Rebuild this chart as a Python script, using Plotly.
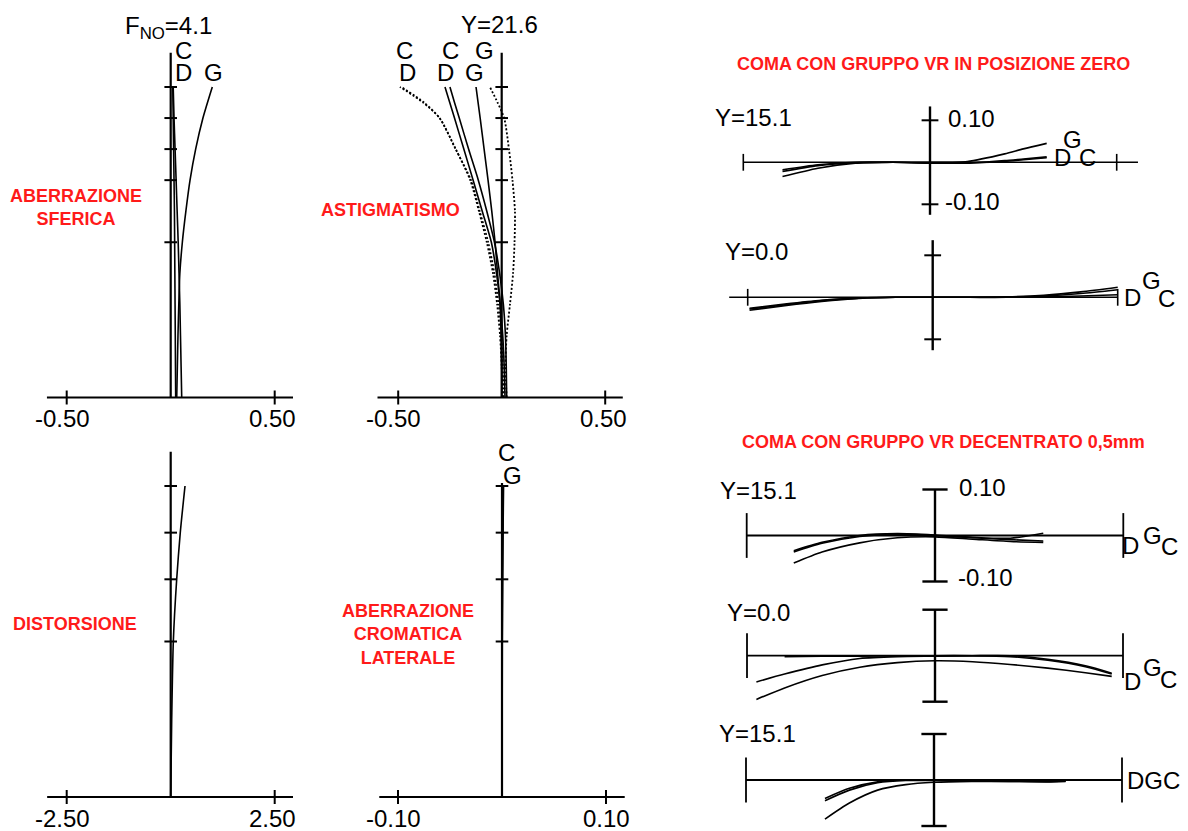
import plotly.graph_objects as go

W, H = 1188, 831

# ---------------- data ----------------
# Spherical aberration (normalised pupil height vs defocus, mm)
SPH_H = [0.0, 0.1, 0.2, 0.3, 0.4, 0.5, 0.6, 0.7, 0.8, 0.9, 1.0]
SPH_C = [0.024, 0.023, 0.022, 0.021, 0.020, 0.019, 0.018, 0.016, 0.014, 0.012, 0.010]
SPH_D = [0.053, 0.050, 0.047, 0.044, 0.040, 0.036, 0.031, 0.026, 0.021, 0.016, 0.012]
SPH_G = [0.029, 0.032, 0.035, 0.039, 0.044, 0.056, 0.073, 0.093, 0.120, 0.155, 0.200]
SPH_YTICKS = [0.5, 0.7, 0.8, 0.9, 1.0]
SPH_XTICKS = [-0.5, 0.5]
SPH_XLABELS = ["-0.50", "0.50"]

# Astigmatism (image height fraction vs focus shift, mm); _S sagittal, _M meridional
AST_H = [0.0, 0.1, 0.2, 0.3, 0.4, 0.5, 0.6, 0.7, 0.8, 0.9, 0.95, 1.0]
AST_C_M = [0.004, 0.000, -0.008, -0.022, -0.042, -0.072, -0.110, -0.152, -0.222, -0.300, -0.375, -0.485]
AST_D_M = [0.008, 0.006, 0.000, -0.015, -0.035, -0.065, -0.106, -0.148, -0.223, -0.300, -0.380, -0.492]
AST_C_S = [0.000, 0.000, -0.003, -0.008, -0.025, -0.050, -0.094, -0.138, -0.183, -0.228, -0.251, -0.274]
AST_D_S = [0.024, 0.022, 0.018, 0.008, -0.010, -0.035, -0.072, -0.113, -0.160, -0.205, -0.228, -0.250]
AST_G_S = [0.016, 0.012, 0.005, -0.007, -0.020, -0.032, -0.048, -0.066, -0.085, -0.104, -0.114, -0.124]
AST_G_M = [0.024, 0.018, 0.024, 0.040, 0.055, 0.062, 0.064, 0.052, 0.035, 0.012, -0.020, -0.057]
AST_XTICKS = [-0.5, 0.5]
AST_XLABELS = ["-0.50", "0.50"]

# Distortion (%)
DIS_H = [0.0, 0.25, 0.5, 0.7, 0.85, 1.0]
DIS_D = [0.0, 0.024, 0.063, 0.144, 0.230, 0.344]
DIS_YTICKS = [0.5, 0.7, 0.85, 1.0]
DIS_XTICKS = [-2.5, 2.5]
DIS_XLABELS = ["-2.50", "2.50"]

# Lateral chromatic aberration (mm)
LAT_H = [0.0, 0.5, 0.7, 0.85, 1.0]
LAT_C = [0.0, 0.0002, 0.0005, 0.0008, 0.0010]
LAT_G = [0.0, 0.0003, 0.0006, 0.0010, 0.0015]
LAT_YTICKS = [0.5, 0.7, 0.85, 1.0]
LAT_XTICKS = [-0.1, 0.1]
LAT_XLABELS = ["-0.10", "0.10"]

# Coma, VR group at zero position
CZ15_X = [-0.79, -0.6, -0.4, -0.2, 0.0, 0.2, 0.4, 0.5, 0.625]
CZ15_G = [-0.034, -0.014, -0.002, 0.000, 0.000, 0.002, 0.020, 0.032, 0.045]
CZ15_D = [-0.018, -0.006, 0.000, 0.000, -0.002, -0.002, 0.004, 0.008, 0.013]
CZ15_C = [-0.022, -0.008, -0.001, 0.000, -0.002, -0.001, 0.002, 0.006, 0.011]
CZ0_X = [-0.99, -0.8, -0.6, -0.4, -0.2, 0.0, 0.2, 0.4, 0.6, 0.8, 1.0]
CZ0_G = [-0.031, -0.020, -0.010, -0.003, 0.0, 0.0, 0.0, 0.001, 0.005, 0.013, 0.024]
CZ0_D = [-0.028, -0.018, -0.008, -0.002, 0.0, 0.0, 0.0, 0.000, 0.003, 0.009, 0.018]
CZ0_C = [-0.026, -0.016, -0.007, -0.002, 0.0, 0.0, 0.0, 0.000, 0.001, 0.003, 0.006]
COMA_TICKS = [-0.1, 0.1]
COMA_TICKLABELS = ["-0.10", "0.10"]
PUPIL_TICKS = [-1.0, 1.0]

# Coma, VR group decentred 0.5 mm
CA_X = [-0.75, -0.6, -0.4, -0.2, 0.0, 0.2, 0.4, 0.575]
CA_D = [-0.033, -0.015, 0.000, 0.004, 0.001, -0.004, -0.006, 0.005]
CA_G = [-0.060, -0.036, -0.016, -0.005, -0.003, -0.008, -0.013, -0.015]
CA_C = [-0.036, -0.017, -0.002, 0.003, 0.000, -0.005, -0.009, -0.012]
CB_X = [-0.95, -0.8, -0.6, -0.4, -0.2, 0.0, 0.2, 0.4, 0.6, 0.8, 0.94]
CB_D = [-0.057, -0.040, -0.020, -0.006, -0.002, -0.001, 0.000, 0.000, -0.008, -0.022, -0.038]
CB_G = [-0.095, -0.070, -0.043, -0.025, -0.015, -0.011, -0.013, -0.019, -0.027, -0.037, -0.045]
CB_C = [-0.004, -0.002, -0.001, -0.001, 0.000, 0.000, 0.000, -0.002, -0.010, -0.024, -0.040]
CC_X = [-0.58, -0.45, -0.3, -0.15, 0.0, 0.2, 0.4, 0.6, 0.7]
CC_D = [-0.040, -0.018, -0.004, 0.000, 0.000, -0.001, -0.002, -0.003, -0.002]
CC_G = [-0.085, -0.050, -0.022, -0.010, -0.005, -0.003, -0.003, -0.003, -0.002]
CC_C = [-0.045, -0.022, -0.006, -0.001, -0.001, -0.002, -0.003, -0.004, -0.003]

FONT = "Liberation Sans, Arial, Helvetica, sans-serif"
RED = "#ff1a1a"

fig = go.Figure()
_axcount = [0]


def add_axes(x0px, sx, y0px, sy, box):
    """Create an x/y axis pair mapping data 0 to pixel (x0px, y0px)."""
    left, right, top, bottom = box
    _axcount[0] += 1
    i = _axcount[0]
    sfx = "" if i == 1 else str(i)
    fig.layout["xaxis" + sfx] = dict(
        domain=[left / W, right / W],
        range=[(left - x0px) / sx, (right - x0px) / sx],
        visible=False, anchor="y" + sfx, fixedrange=True)
    fig.layout["yaxis" + sfx] = dict(
        domain=[1 - bottom / H, 1 - top / H],
        range=[(y0px - bottom) / sy, (y0px - top) / sy],
        visible=False, anchor="x" + sfx, fixedrange=True)
    return ("x" + sfx, "y" + sfx)


def curve(ax, xs, ys, width=1.6, dash="solid"):
    fig.add_trace(go.Scatter(
        x=xs, y=ys, mode="lines", xaxis=ax[0], yaxis=ax[1],
        line=dict(color="black", width=width, dash=dash, shape="spline", smoothing=0.7),
        showlegend=False, hoverinfo="skip", cliponaxis=False))


def seg(ax, xs, ys, width=2.2):
    fig.add_trace(go.Scatter(
        x=xs, y=ys, mode="lines", xaxis=ax[0], yaxis=ax[1],
        line=dict(color="black", width=width),
        showlegend=False, hoverinfo="skip", cliponaxis=False))


def ticks(ax, xs, ys, symbol, size, width=2.0):
    fig.add_trace(go.Scatter(
        x=xs, y=ys, mode="markers", xaxis=ax[0], yaxis=ax[1],
        marker=dict(symbol=symbol, size=size, color="black",
                    line=dict(color="black", width=width)),
        showlegend=False, hoverinfo="skip", cliponaxis=False))


anns = []


def text(t, px, py, size=24, color="black", bold=False):
    if bold:
        t = "<b>" + t + "</b>"
    anns.append(dict(text=t, x=px / W, y=1 - py / H, xref="paper", yref="paper",
                     xanchor="center", yanchor="middle", showarrow=False,
                     font=dict(family=FONT, size=size, color=color)))


def data_text(ax, t, x, y, dx, dy, size=24):
    anns.append(dict(text=t, x=x, y=y, xref=ax[0], yref=ax[1], xshift=dx, yshift=dy,
                     xanchor="center", yanchor="middle", showarrow=False,
                     font=dict(family=FONT, size=size, color="black")))


# ---------------- spherical aberration ----------------
a1 = add_axes(170.7, 208, 397.5, 310.5, (0, 320, 30, 410))
seg(a1, [-0.595, 0.588], [0, 0])
seg(a1, [0, 0], [0, 1.11])
ticks(a1, [0] * len(SPH_YTICKS), SPH_YTICKS, "line-ew", 9)
ticks(a1, SPH_XTICKS, [0] * len(SPH_XTICKS), "line-ns", 10)
curve(a1, SPH_C, SPH_H)
curve(a1, SPH_D, SPH_H)
curve(a1, SPH_G, SPH_H)
for v, lab in zip(SPH_XTICKS, SPH_XLABELS):
    data_text(a1, lab, v, 0, -4 if v < 0 else -2, -21)
text("F<sub>NO</sub>=4.1", 168, 27)
text("C", 183, 50)
text("D", 183, 72)
text("G", 213, 72)
text("ABERRAZIONE<br>SFERICA", 76, 207, size=18, color=RED, bold=True)

# ---------------- astigmatism ----------------
a2 = add_axes(501.7, 207, 397.5, 310.5, (330, 650, 30, 410))
seg(a2, [-0.6, 0.585], [0, 0])
seg(a2, [0, 0], [0, 1.11])
ticks(a2, [0] * len(SPH_YTICKS), SPH_YTICKS, "line-ew", 9)
ticks(a2, AST_XTICKS, [0] * len(AST_XTICKS), "line-ns", 10)
curve(a2, AST_C_M, AST_H, width=1.8, dash="2px,2px")
curve(a2, AST_D_M, AST_H, width=1.6, dash="2px,2px")
curve(a2, AST_C_S, AST_H)
curve(a2, AST_D_S, AST_H)
curve(a2, AST_G_S, AST_H)
curve(a2, AST_G_M, AST_H, width=1.8, dash="2px,2px")
for v, lab in zip(AST_XTICKS, AST_XLABELS):
    data_text(a2, lab, v, 0, -5 if v < 0 else -2, -21)
text("Y=21.6", 499, 25)
text("C", 405, 50)
text("D", 407, 72)
text("C", 450, 50)
text("D", 445, 72)
text("G", 484, 50)
text("G", 474, 72)
text("ASTIGMATISMO", 391, 210, size=18, color=RED, bold=True)

# ---------------- distortion ----------------
a3 = add_axes(170.7, 41.6, 797, 311, (0, 320, 440, 831))
seg(a3, [-2.97, 2.94], [0, 0])
seg(a3, [0, 0], [0, 1.11])
ticks(a3, [0] * len(DIS_YTICKS), DIS_YTICKS, "line-ew", 9)
ticks(a3, DIS_XTICKS, [0] * len(DIS_XTICKS), "line-ns", 10)
curve(a3, DIS_D, DIS_H)
for v, lab in zip(DIS_XTICKS, DIS_XLABELS):
    data_text(a3, lab, v, 0, -4 if v < 0 else -2, -21)
text("DISTORSIONE", 75, 624, size=18, color=RED, bold=True)

# ---------------- lateral chromatic ----------------
a4 = add_axes(502, 1040, 797, 311, (330, 650, 440, 831))
seg(a4, [-0.118, 0.118], [0, 0])
seg(a4, [0, 0], [0, 1.01])
ticks(a4, [0] * len(LAT_YTICKS), LAT_YTICKS, "line-ew", 9)
ticks(a4, LAT_XTICKS, [0] * len(LAT_XTICKS), "line-ns", 10)
curve(a4, LAT_C, LAT_H)
curve(a4, LAT_G, LAT_H)
for v, lab in zip(LAT_XTICKS, LAT_XLABELS):
    data_text(a4, lab, v, 0, -5 if v < 0 else 0, -21)
text("C", 507, 452)
text("G", 512, 475)
text("ABERRAZIONE<br>CROMATICA<br>LATERALE", 408, 634, size=18, color=RED, bold=True)

# ---------------- coma, VR at zero ----------------
text("COMA CON GRUPPO VR IN POSIZIONE ZERO", 933, 64, size=18, color=RED, bold=True)

a5 = add_axes(930, 186.7, 162.3, 420, (700, 1188, 95, 225))
seg(a5, [-1.0, 1.114], [0, 0], width=1.6)
seg(a5, [0, 0], [-0.125, 0.133], width=2.4)
ticks(a5, [0, 0], COMA_TICKS, "line-ew", 12)
ticks(a5, PUPIL_TICKS, [0, 0], "line-ns", 12, width=1.6)
curve(a5, CZ15_X, CZ15_G)
curve(a5, CZ15_X, CZ15_D)
curve(a5, CZ15_X, CZ15_C)
text("Y=15.1", 753, 118)
data_text(a5, COMA_TICKLABELS[1], 0, 0.1, 41, 2)
data_text(a5, COMA_TICKLABELS[0], 0, -0.1, 42, 3)
text("G", 1072, 139)
text("D", 1062, 157)
text("C", 1087, 158)

a6 = add_axes(932.7, 185, 297.3, 420, (700, 1188, 230, 360))
seg(a6, [-1.1, 1.0], [0, 0], width=1.6)
seg(a6, [0, 0], [-0.126, 0.136], width=2.4)
ticks(a6, [0, 0], COMA_TICKS, "line-ew", 12)
ticks(a6, PUPIL_TICKS, [0, 0], "line-ns", 12, width=1.6)
curve(a6, CZ0_X, CZ0_G)
curve(a6, CZ0_X, CZ0_D)
curve(a6, CZ0_X, CZ0_C)
text("Y=0.0", 756, 252)
text("D", 1132, 297)
text("G", 1151, 280)
text("C", 1166, 299)

# ---------------- coma, VR decentred ----------------
text("COMA CON GRUPPO VR DECENTRATO 0,5mm", 943, 442, size=18, color=RED, bold=True)

a7 = add_axes(935, 188.3, 535.5, 460, (700, 1188, 470, 595))
seg(a7, PUPIL_TICKS, [0, 0], width=1.8)
seg(a7, [0, 0], COMA_TICKS, width=2.4)
ticks(a7, [0, 0], COMA_TICKS, "line-ew", 18, width=2.4)
ticks(a7, PUPIL_TICKS, [0, 0], "line-ns", 32, width=1.8)
curve(a7, CA_X, CA_D)
curve(a7, CA_X, CA_G)
curve(a7, CA_X, CA_C)
text("Y=15.1", 758, 490)
data_text(a7, COMA_TICKLABELS[1], 0, 0.1, 47, 2)
data_text(a7, COMA_TICKLABELS[0], 0, -0.1, 50, 4)
text("D", 1130, 545)
text("G", 1152, 535)
text("C", 1169, 546)

a8 = add_axes(935, 188, 655.7, 460, (700, 1188, 598, 715))
seg(a8, PUPIL_TICKS, [0, 0], width=1.8)
seg(a8, [0, 0], COMA_TICKS, width=2.4)
ticks(a8, [0, 0], COMA_TICKS, "line-ew", 18, width=2.4)
ticks(a8, PUPIL_TICKS, [0, 0], "line-ns", 32, width=1.8)
curve(a8, CB_X, CB_D)
curve(a8, CB_X, CB_G)
curve(a8, CB_X[1:], CB_C[1:])
text("Y=0.0", 758, 612)
text("D", 1132, 681)
text("G", 1152, 667)
text("C", 1168, 679)

a9 = add_axes(934, 188, 780, 460, (700, 1188, 722, 831))
seg(a9, PUPIL_TICKS, [0, 0], width=1.8)
seg(a9, [0, 0], COMA_TICKS, width=2.4)
ticks(a9, [0, 0], COMA_TICKS, "line-ew", 18, width=2.4)
ticks(a9, PUPIL_TICKS, [0, 0], "line-ns", 32, width=1.8)
curve(a9, CC_X, CC_D)
curve(a9, CC_X, CC_G)
curve(a9, CC_X, CC_C)
text("Y=15.1", 757, 733)
text("DGC", 1153, 780)

fig.update_layout(
    width=W, height=H,
    margin=dict(l=0, r=0, t=0, b=0),
    paper_bgcolor="white", plot_bgcolor="rgba(0,0,0,0)",
    showlegend=False,
    annotations=anns,
    font=dict(family=FONT),
)

fig.write_html(
    "out.html",
    config={"displayModeBar": False},
    post_script="document.body.style.margin='0';document.body.style.overflow='hidden';",
)
